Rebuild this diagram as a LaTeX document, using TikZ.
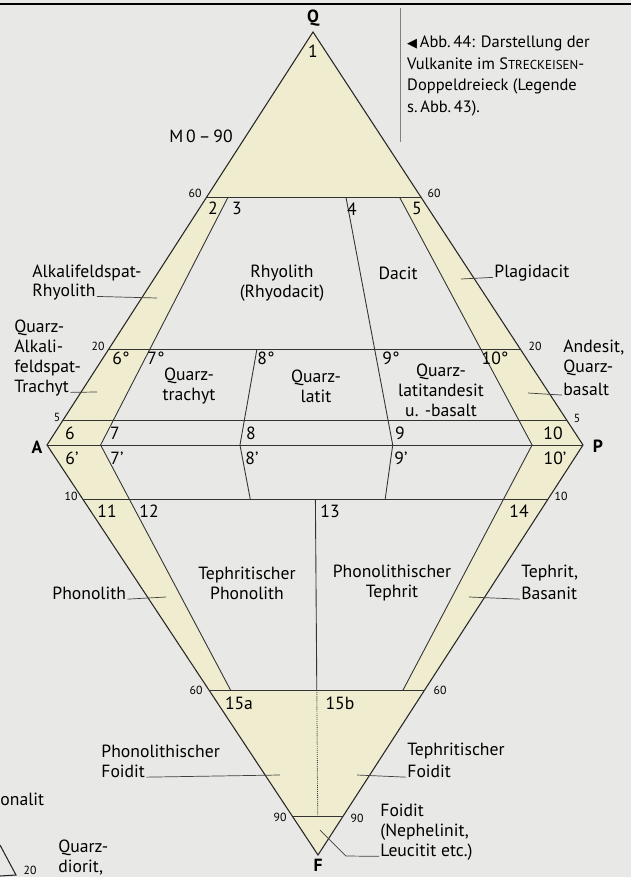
\documentclass[tikz,border=0pt]{standalone}
\usepackage{fontspec}
\setmainfont{PT Sans}
\newfontfamily\symfont{DejaVu Sans}
\usepackage{xcolor}
\usepackage{tikz}
\usetikzlibrary{calc,positioning}
\definecolor{scanbg}{HTML}{E8E8E6}
\definecolor{fieldyellow}{HTML}{EFECCF}

\begin{document}
\begin{tikzpicture}[x=0.85pt,y=-0.85pt,
    font=\fontsize{15}{17}\selectfont,
    outline/.style={line width=0.9pt,black!85},
    divider/.style={line width=0.75pt,black!80},
    leader/.style={line width=0.6pt,black!75},
    rock/.style={align=center,inner sep=1pt},
    rockline/.style={inner sep=1pt},
    fieldno/.style={inner sep=0pt},
    tick/.style={inner sep=0pt,font=\fontsize{10}{12}\selectfont},
    apex/.style={inner sep=0pt,font=\bfseries\fontsize{15}{18}\selectfont},
    caption/.style={align=left,inner sep=0pt,font=\fontsize{14}{18.5}\selectfont}
  ]
  \useasboundingbox[fill=scanbg] (0,0) rectangle (631,877);
  \clip (0,0) rectangle (631,877);

  % corners of the double triangle
  \coordinate (Q) at (313,32);
  \coordinate (A) at (47,445);
  \coordinate (P) at (583,445);
  \coordinate (F) at (318,855);

  % horizontal lines
  \coordinate (q60l) at ($(A)!0.6!(Q)$);
  \coordinate (q60r) at ($(P)!0.6!(Q)$);
  \coordinate (q20l) at ($(A)!0.232!(Q)$);
  \coordinate (q20r) at ($(P)!0.232!(Q)$);
  \coordinate (q5l) at ($(A)!0.06!(Q)$);
  \coordinate (q5r) at ($(P)!0.06!(Q)$);
  \coordinate (f10l) at ($(A)!0.132!(F)$);
  \coordinate (f10r) at ($(P)!0.132!(F)$);
  \coordinate (f60l) at ($(A)!0.598!(F)$);
  \coordinate (f60r) at ($(P)!0.598!(F)$);
  \coordinate (f90l) at ($(A)!0.907!(F)$);
  \coordinate (f90r) at ($(P)!0.907!(F)$);

  % P/(A+P) lines
  \coordinate (p10top) at ($(q60l)!0.1!(q60r)$);
  \coordinate (p65top) at ($(q60l)!0.65!(q60r)$);
  \coordinate (p90top) at ($(q60l)!0.9!(q60r)$);
  \coordinate (p35top) at ($(q20l)!0.36!(q20r)$);
  \coordinate (p10mid) at ($(A)!0.1!(P)$);
  \coordinate (p35mid) at ($(A)!0.36!(P)$);
  \coordinate (p65mid) at ($(A)!0.645!(P)$);
  \coordinate (p90mid) at ($(A)!0.905!(P)$);
  \coordinate (p10bot) at ($(f60l)!0.1!(f60r)$);
  \coordinate (p90bot) at ($(f60l)!0.9!(f60r)$);
  \coordinate (p35bot) at ($(f10l)!0.36!(f10r)$);
  \coordinate (p65bot) at ($(f10l)!0.65!(f10r)$);
  \coordinate (c10) at ($(f10l)!0.5!(f10r)$);
  \coordinate (c60) at ($(f60l)!0.5!(f60r)$);
  \coordinate (c90) at ($(f90l)!0.5!(f90r)$);

  % fields
  \fill[fieldyellow] (Q) -- (A) -- (F) -- (P) -- cycle;
  \fill[scanbg] (p10top) -- (p90top) -- (p90mid) -- (p90bot) -- (p10bot) -- (p10mid) -- cycle;

  \draw[outline] (Q) -- (A) -- (F) -- (P) -- cycle;
  \draw[divider] (q60l) -- (q60r) (q20l) -- (q20r) (q5l) -- (q5r) (A) -- (P)
    (f10l) -- (f10r) (f60l) -- (f60r) (f90l) -- (f90r);
  \draw[divider] (p10top) -- (p10mid) -- (p10bot);
  \draw[divider] (p90top) -- (p90mid) -- (p90bot);
  \draw[divider] (p65top) -- (p65mid) -- (p65bot);
  \draw[divider] (p35top) -- (p35mid) -- (p35bot);
  \draw[divider] (c10) -- (c60);
  \draw[divider,densely dotted] (c60) -- (c90);

  % page rule and caption
  \coordinate (rulel) at (0,4);
  \coordinate (ruler) at (631,4);
  \draw[line width=1.6pt] (rulel) -- (ruler);
  \coordinate (septop) at (400,8);
  \coordinate (sepbot) at (400,142);
  \draw[line width=0.5pt,black!50] (septop) -- (sepbot);
  \node[caption,anchor=west] (cap) at (407,76)
    {{\symfont\fontsize{11}{11}\selectfont ◀}\,Abb.\,44: Darstellung der\\
     Vulkanite im S{\fontsize{11}{10}\selectfont TRECKEISEN}-\\
     Doppeldreieck (Legende\\
     s.\,Abb.\,43).};

  % corners
  \node[apex] (lq) at (313,18) {Q};
  \node[apex] (la) at (37,447) {A};
  \node[apex] (lp) at (598,446) {P};
  \node[apex] (lf) at (318,865) {F};
  \node (mq) at (201,136) {M\,0\,–\,90};

  % scale marks
  \node[tick] at (195,193) {60};
  \node[tick] at (434,193) {60};
  \node[tick] at (98,346) {20};
  \node[tick] at (535,346) {20};
  \node[tick] at (57,417) {5};
  \node[tick] at (577,418) {5};
  \node[tick] at (71,496) {10};
  \node[tick] at (561,496) {10};
  \node[tick] at (196,690) {60};
  \node[tick] at (440,690) {60};
  \node[tick] at (280,817) {90};
  \node[tick] at (357,818) {90};

  % field numbers
  \node[fieldno] at (313,51) {1};
  \node[fieldno] at (213,208) {2};
  \node[fieldno] at (237,208) {3};
  \node[fieldno] at (352,209) {4};
  \node[fieldno] at (417,208) {5};
  \node[fieldno] at (121,358) {6°};
  \node[fieldno] at (156,358) {7°};
  \node[fieldno] at (266,358) {8°};
  \node[fieldno] at (391,358) {9°};
  \node[fieldno] at (495,358) {10°};
  \node[fieldno] at (70,433) {6};
  \node[fieldno] at (115,433) {7};
  \node[fieldno] at (251,433) {8};
  \node[fieldno] at (400,433) {9};
  \node[fieldno] at (553,433) {10};
  \node[fieldno] at (72,458) {6’};
  \node[fieldno] at (117,458) {7’};
  \node[fieldno] at (252,458) {8’};
  \node[fieldno] at (401,458) {9’};
  \node[fieldno] at (555,458) {10’};
  \node[fieldno] at (107,511) {11};
  \node[fieldno] at (149,511) {12};
  \node[fieldno] at (330,511) {13};
  \node[fieldno] at (519,511) {14};
  \node[fieldno] at (239,703) {15a};
  \node[fieldno] at (340,703) {15b};

  % rock names inside the fields
  \node[rock] (rhy) at (282,283) {Rhyolith\\(Rhyodacit)};
  \node[rock] (dac) at (398,273) {Dacit};
  \node[rock] (qtr) at (189,386) {Quarz-\\trachyt};
  \node[rock] (qlat) at (316,386) {Quarz-\\latit};
  \node[rock] (qla) at (441,390) {Quarz-\\latitandesit\\u. -basalt};
  \node[rock] (tphon) at (247,583) {Tephritischer\\Phonolith};
  \node[rock] (ptep) at (392,583) {Phonolithischer\\Tephrit};

  % rock names with leaders
  \node[rockline,anchor=west] (alk-a) at (31,273) {Alkalifeldspat-};
  \node[rockline,anchor=west] (alk-b) at (31,292) {Rhyolith};
  \coordinate (alk-tip) at (157,298);
  \draw[leader] (alk-b.base east) -- (alk-tip);

  \node[rockline,anchor=west] (plag) at (493,273) {Plagidacit};
  \coordinate (plag-tip) at (461,279);
  \draw[leader] (plag-tip) -- (plag.base west);

  \node[rockline,anchor=west,align=left] (aft-a) at (13,348) {Quarz-\\Alkali-\\feldspat-};
  \node[rockline,anchor=west] (aft-b) at (13,388) {Trachyt};
  \coordinate (aft-tip) at (97,392);
  \draw[leader] (aft-b.base east) -- (aft-tip);

  \node[rockline,anchor=west,align=left] (and-a) at (562,358) {Andesit,\\Quarz-};
  \node[rockline,anchor=west] (and-b) at (562,389) {basalt};
  \coordinate (and-tip) at (528,393);
  \draw[leader] (and-tip) -- (and-b.base west);

  \node[rockline,anchor=west] (phon) at (51,593) {Phonolith};
  \coordinate (phon-tip) at (166,597);
  \draw[leader] (phon.base east) -- (phon-tip);

  \node[rockline,anchor=west] (tep-a) at (520,573) {Tephrit,};
  \node[rockline,anchor=west] (tep-b) at (520,593) {Basanit};
  \coordinate (tep-tip) at (469,597);
  \draw[leader] (tep-tip) -- (tep-b.base west);

  \node[rockline,anchor=west] (pfo-a) at (100,751) {Phonolithischer};
  \node[rockline,anchor=west] (pfo-b) at (100,771) {Foidit};
  \coordinate (pfo-tip) at (280,775);
  \draw[leader] (pfo-b.base east) -- (pfo-tip);

  \node[rockline,anchor=west] (tfo-a) at (406,751) {Tephritischer};
  \node[rockline,anchor=west] (tfo-b) at (406,771) {Foidit};
  \coordinate (tfo-tip) at (357,775);
  \draw[leader] (tfo-tip) -- (tfo-b.base west);

  \node[rockline,anchor=west,align=left] (foi-a) at (379,822) {Foidit\\(Nephelinit,};
  \node[rockline,anchor=west] (foi-b) at (379,852) {Leucitit etc.)};
  \coordinate (foi-tip) at (320,830);
  \coordinate (foi-bend) at (346,856);
  \draw[leader] (foi-tip) -- (foi-bend) -- (foi-b.base west);

  % edge of the neighbouring figure
  \node[rockline,anchor=west] (nb1) at (-1,799) {onalit};
  \node[rockline,anchor=west,align=left] (nb2) at (57,858) {Quarz-\\diorit,};
  \node[tick] (nb3) at (30,870) {20};
  \coordinate (nbtop) at (0,845);
  \coordinate (nbbot) at (16,875);
  \coordinate (nbend) at (0,876);
  \draw[outline] (nbtop) -- (nbbot) -- (nbend);
\end{tikzpicture}
\end{document}
